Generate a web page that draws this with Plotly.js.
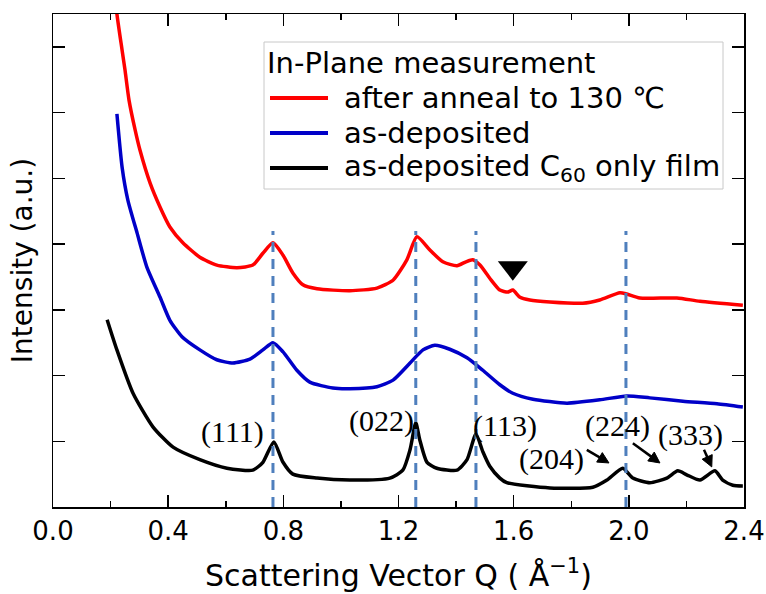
<!DOCTYPE html>
<html>
<head>
<meta charset="utf-8">
<script src="https://cdn.plot.ly/plotly-3.0.1.min.js"></script>
<style>html,body{margin:0;padding:0;background:#fff;}#chart{width:766px;height:594px;}</style>
</head>
<body>
<div id="chart"></div>
<script>
// ---- data ----
const legendTitle = "In-Plane measurement";
const seriesNames = ["after anneal to 130 ℃", "as-deposited", "as-deposited C<sub>60</sub> only film"];
const seriesColors = ["#ff0000", "#0000c8", "#000000"];

const annealQ = [0.215,0.222,0.240,0.250,0.264,0.285,0.302,0.337,0.372,0.406,0.451,0.510,0.569,0.639,0.694,0.729,0.764,0.799,0.833,0.868,0.917,1.031,1.125,1.181,1.229,1.264,1.309,1.354,1.403,1.434,1.458,1.483,1.517,1.552,1.580,1.597,1.622,1.656,1.726,1.840,1.899,1.969,1.993,2.038,2.167,2.247,2.396];
const annealI = [7.87,7.50,6.95,6.65,6.19,5.74,5.43,4.93,4.56,4.26,4.02,3.80,3.68,3.64,3.68,3.86,4.02,3.83,3.56,3.38,3.32,3.29,3.33,3.45,3.76,4.11,3.91,3.73,3.67,3.73,3.76,3.68,3.48,3.30,3.27,3.30,3.19,3.15,3.12,3.10,3.15,3.26,3.24,3.18,3.18,3.13,3.07];

const depQ = [0.222,0.240,0.260,0.292,0.326,0.372,0.406,0.448,0.510,0.569,0.625,0.684,0.729,0.764,0.799,0.847,0.892,0.972,1.031,1.125,1.181,1.240,1.285,1.326,1.378,1.438,1.493,1.552,1.597,1.667,1.785,1.899,1.993,2.073,2.188,2.306,2.396];
const depI = [5.98,5.17,4.67,4.17,3.65,3.19,2.84,2.59,2.39,2.24,2.19,2.25,2.39,2.50,2.36,2.08,1.90,1.81,1.80,1.83,1.93,2.19,2.39,2.46,2.40,2.27,2.08,1.86,1.73,1.64,1.58,1.63,1.69,1.66,1.61,1.57,1.52];

const c60Q = [0.188,0.222,0.278,0.347,0.417,0.510,0.604,0.694,0.729,0.767,0.799,0.833,0.917,1.031,1.170,1.215,1.240,1.260,1.274,1.299,1.333,1.403,1.438,1.469,1.493,1.517,1.552,1.576,1.726,1.875,1.924,1.979,2.014,2.073,2.132,2.170,2.201,2.247,2.299,2.326,2.361,2.396];
const c60I = [2.85,2.39,1.73,1.22,0.91,0.72,0.59,0.56,0.68,0.99,0.68,0.50,0.44,0.41,0.44,0.56,0.87,1.28,1.02,0.68,0.59,0.56,0.72,1.11,0.84,0.62,0.44,0.37,0.29,0.30,0.41,0.59,0.44,0.37,0.44,0.55,0.49,0.41,0.55,0.41,0.33,0.32];

// reference peak positions (dashed lines)
const peakQ = [0.764, 1.260, 1.469, 1.990];
const peakLineTop = 4.2;

// extra feature marked with a triangle on the annealed curve
const markerQ = [1.597];
const markerI = [3.64];

// Miller index labels
const hklLabels = ["(111)", "(022)", "(113)", "(204)", "(224)", "(333)"];
const hklQ      = [0.622, 1.142, 1.569, 1.733, 1.962, 2.215];
const hklI      = [1.14, 1.31, 1.23, 0.73, 1.23, 1.10];
// pointer arrows for the weak reflections: tail and head
const arrowTailQ = [1.854, 2.014, 2.261];
const arrowTailI = [0.87, 0.97, 0.87];
const arrowHeadQ = [1.931, 2.108, 2.288];
const arrowHeadI = [0.67, 0.67, 0.61];

const xTicks = [0.0, 0.4, 0.8, 1.2, 1.6, 2.0, 2.4];

// ---- figure ----
const sansFont = "'DejaVu Sans', 'Noto Sans CJK JP', sans-serif";
const serifFont = "'Liberation Serif', 'DejaVu Serif', serif";
const lineStyle = {shape: "spline", smoothing: 0.6, width: 3.5};
const X_RANGE = [0, 2.4], Y_RANGE = [0, 7.5];
const M = {l: 53, r: 22, t: 14, b: 87};
const PLOT_W = 766 - M.l - M.r, PLOT_H = 594 - M.t - M.b;
const pxX = PLOT_W / (X_RANGE[1] - X_RANGE[0]);
const pxY = PLOT_H / (Y_RANGE[1] - Y_RANGE[0]);
const paperX = px => (px - M.l) / PLOT_W;
const paperY = py => (594 - M.b - py) / PLOT_H;

const seriesQ = [annealQ, depQ, c60Q];
const seriesI = [annealI, depI, c60I];
const traces = seriesNames.map((n, i) => ({
  x: seriesQ[i], y: seriesI[i], mode: "lines", name: n,
  line: Object.assign({color: seriesColors[i]}, lineStyle)
}));
traces.push({x: markerQ, y: markerI, mode: "markers", name: "marker", hoverinfo: "skip",
  marker: {symbol: "triangle-down", size: 26, color: "#000000"}});

const shapes = peakQ.map(q => ({
  type: "line", xref: "x", yref: "y", x0: q, x1: q, y0: 0, y1: peakLineTop,
  line: {color: "#4f7fbd", width: 3, dash: "10px,7px"}, layer: "above"
}));

// arrows drawn as shapes (shaft + filled head)
arrowHeadQ.forEach((hq, i) => {
  const tq = arrowTailQ[i], ti = arrowTailI[i], hi = arrowHeadI[i];
  const dx = (hq - tq) * pxX, dy = -(hi - ti) * pxY;
  const len = Math.hypot(dx, dy), ux = dx / len, uy = dy / len;
  const headLen = 11, headHalf = 5.5;
  const bx = -ux * headLen, by = -uy * headLen;
  const toQ = px => hq + px / pxX, toI = py => hi - py / pxY;
  shapes.push({type: "line", xref: "x", yref: "y", x0: tq, y0: ti, x1: toQ(bx * 0.9), y1: toI(by * 0.9),
               line: {color: "#000", width: 2.5}, layer: "above"});
  const p1 = [bx - uy * headHalf, by + ux * headHalf], p2 = [bx + uy * headHalf, by - ux * headHalf];
  shapes.push({type: "path", xref: "x", yref: "y",
    path: `M${hq},${hi} L${toQ(p1[0])},${toI(p1[1])} L${toQ(p2[0])},${toI(p2[1])} Z`,
    fillcolor: "#000", line: {color: "#000", width: 1}, layer: "above"});
});

const annotations = hklLabels.map((t, i) => ({
  xref: "x", yref: "y", x: hklQ[i], y: hklI[i], text: t, showarrow: false,
  font: {family: serifFont, size: 30, color: "#000"}
}));

// legend box (drawn to match the reference layout)
const LEG = {x0: 264, x1: 723, y0: 42, y1: 189, titleY: 63, rowY: [98, 133, 168], lineX0: 270, lineX1: 328, textX: 342, size: 29};
shapes.push({type: "rect", xref: "paper", yref: "paper",
  x0: paperX(LEG.x0), x1: paperX(LEG.x1), y0: paperY(LEG.y1), y1: paperY(LEG.y0),
  fillcolor: "#fff", line: {color: "#c8c8c8", width: 1}, layer: "above"});
annotations.push({xref: "paper", yref: "paper", x: paperX(LEG.x0 + 1), y: paperY(LEG.titleY),
  xanchor: "left", yanchor: "middle", text: legendTitle, showarrow: false,
  font: {family: sansFont, size: LEG.size, color: "#000"}});
seriesNames.forEach((n, i) => {
  shapes.push({type: "line", xref: "paper", yref: "paper",
    x0: paperX(LEG.lineX0), x1: paperX(LEG.lineX1), y0: paperY(LEG.rowY[i]), y1: paperY(LEG.rowY[i]),
    line: {color: seriesColors[i], width: 4}, layer: "above"});
  annotations.push({xref: "paper", yref: "paper", x: paperX(LEG.textX), y: paperY(LEG.rowY[i]),
    xanchor: "left", yanchor: "middle", text: n, showarrow: false,
    font: {family: sansFont, size: LEG.size, color: "#000"}});
});

const layout = {
  width: 766, height: 594,
  margin: M,
  paper_bgcolor: "#fff", plot_bgcolor: "#fff",
  font: {family: sansFont, color: "#000"},
  showlegend: false,
  xaxis: {
    range: X_RANGE, tickvals: xTicks, ticktext: xTicks.map(v => v.toFixed(1)),
    ticks: "inside", ticklen: 12, tickwidth: 1.5, tickcolor: "#000",
    minor: {dtick: 0.2, tick0: 0, ticks: "inside", ticklen: 6, tickwidth: 1.5, tickcolor: "#000"},
    showline: true, linecolor: "#000", linewidth: 1.5, mirror: "allticks",
    showgrid: false, zeroline: false,
    tickfont: {family: sansFont, size: 26, color: "#000"},
    title: {text: "Scattering Vector Q ( Å<sup>−1</sup>)", font: {family: sansFont, size: 30, color: "#000"}, standoff: 20},
    automargin: false
  },
  yaxis: {
    range: Y_RANGE, dtick: 1, tick0: 0, showticklabels: false,
    ticks: "inside", ticklen: 12, tickwidth: 1.5, tickcolor: "#000",
    showline: true, linecolor: "#000", linewidth: 1.5, mirror: "allticks",
    showgrid: false, zeroline: false,
    title: {text: "Intensity (a.u.)", font: {family: sansFont, size: 28, color: "#000"}, standoff: 10},
    automargin: false
  },
  shapes: shapes,
  annotations: annotations
};

Plotly.newPlot("chart", traces, layout, {displayModeBar: false, staticPlot: true});
</script>
</body>
</html>
